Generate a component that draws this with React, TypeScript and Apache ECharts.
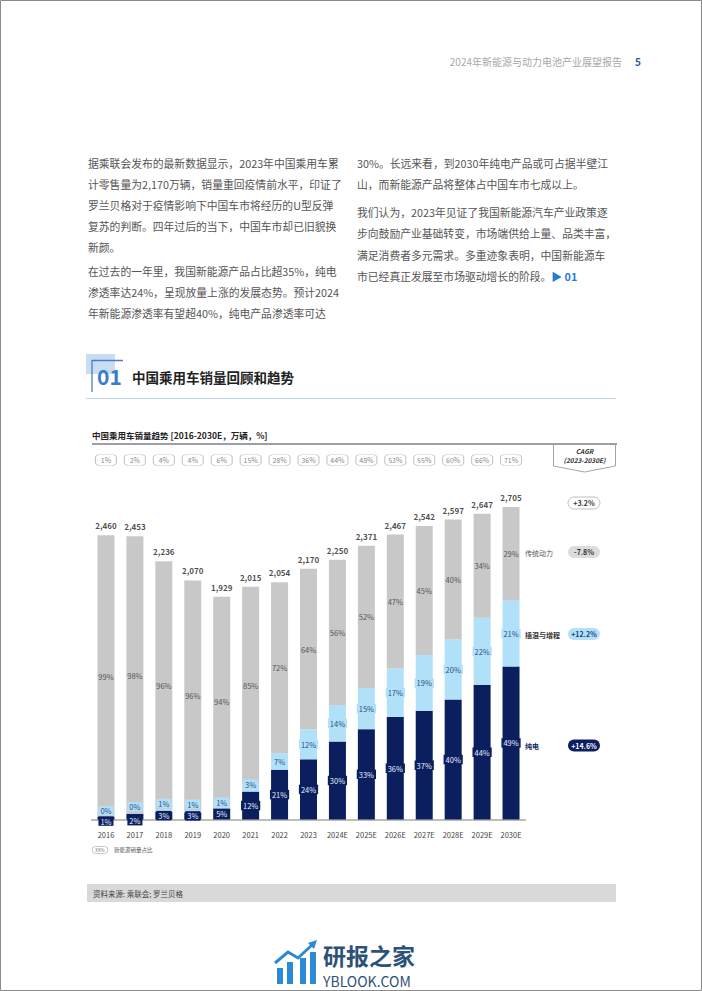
import React, { useEffect, useRef } from "react";
import * as echarts from "echarts";

const years = ["2016", "2017", "2018", "2019", "2020", "2021", "2022", "2023", "2024E", "2025E", "2026E", "2027E", "2028E", "2029E", "2030E"];
const totals = [2460, 2453, 2236, 2070, 1929, 2015, 2054, 2170, 2250, 2371, 2467, 2542, 2597, 2647, 2705];
const bevShare = [1, 2, 3, 3, 5, 12, 21, 24, 30, 33, 36, 37, 40, 44, 49];
const phevShare = [0, 0, 1, 1, 1, 3, 7, 12, 14, 15, 17, 19, 20, 22, 21];
const iceShare = [99, 98, 96, 96, 94, 85, 72, 64, 56, 52, 47, 45, 40, 34, 29];
const nevShare = [1, 2, 4, 4, 6, 15, 28, 36, 44, 48, 53, 55, 60, 66, 71];
const segmentNames = ["传统动力", "插混与增程", "纯电"];
const cagrTotal = "+3.2%";
const cagrSegments = ["-7.8%", "+12.2%", "+14.6%"];

const leftLines = [
  "据乘联会发布的最新数据显示，2023年中国乘用车累",
  "计零售量为2,170万辆，销量重回疫情前水平，印证了",
  "罗兰贝格对于疫情影响下中国车市将经历的U型反弹",
  "复苏的判断。四年过后的当下，中国车市却已旧貌换",
  "新颜。",
  "在过去的一年里，我国新能源产品占比超35%，纯电",
  "渗透率达24%，呈现放量上涨的发展态势。预计2024",
  "年新能源渗透率有望超40%，纯电产品渗透率可达",
];
const leftY = [163, 184, 205, 226, 247, 270.5, 291.8, 313];
const rightLines = [
  "30%。长远来看，到2030年纯电产品或可占据半壁江",
  "山，而新能源产品将整体占中国车市七成以上。",
  "我们认为，2023年见证了我国新能源汽车产业政策逐",
  "步向鼓励产业基础转变，市场端供给上量、品类丰富，",
  "满足消费者多元需求。多重迹象表明，中国新能源车",
  "市已经真正发展至市场驱动增长的阶段。{b|▶ 01}",
];
const rightY = [163, 184, 212, 233.3, 254.6, 276];

const FONT = "'Noto Sans CJK SC', 'Noto Sans', sans-serif";
const NAVY = "#0b1f5e";
const LIGHT = "#b1e1f8";
const GRAY = "#c8c8c8";

const bevOffsets: Record<number, number[]> = { 0: [0, 3], 1: [0, 4] };
const phevOffsets: Record<number, number[]> = { 0: [0, -6], 1: [0, -7], 2: [0, -7], 3: [0, -7], 4: [0, -5], 5: [0, -4] };

function txt(x: number, y: number, text: string, size: number, color: string, opts: any = {}) {
  return {
    type: "text",
    x,
    y,
    silent: true,
    style: {
      text,
      fill: color,
      fontSize: size,
      fontFamily: FONT,
      fontWeight: opts.weight || "normal",
      fontStyle: opts.style || "normal",
      textAlign: opts.align || "left",
      textVerticalAlign: "middle",
      rich: opts.rich,
    },
  };
}

function pill(cx: number, cy: number, w: number, h: number, fill: string, stroke: string, text: string, color: string) {
  return [
    {
      type: "rect",
      shape: { x: cx - w / 2, y: cy - h / 2, width: w, height: h, r: h / 2 },
      style: { fill, stroke, lineWidth: stroke === "none" ? 0 : 0.8 },
      silent: true,
    },
    txt(cx, cy, text, 7, color, { align: "center", weight: "bold" }),
  ];
}

export default function App() {
  const ref = useRef<HTMLDivElement>(null);
  useEffect(() => {
    document.body.style.margin = "0";
    const chart = echarts.init(ref.current!, null, { renderer: "svg" });

    const bevVals = totals.map((t, i) => (t * bevShare[i]) / 100);
    const phevVals = totals.map((t, i) => (t * phevShare[i]) / 100);
    const iceVals = totals.map((t, i) => t - bevVals[i] - phevVals[i]);

    const graphics: any[] = [];
    graphics.push({ type: "rect", shape: { x: 0.5, y: 0.5, width: 701, height: 990 }, style: { fill: "none", stroke: "#8a8a8a", lineWidth: 1 }, silent: true });
    graphics.push(txt(622, 61, "2024年新能源与动力电池产业展望报告", 10, "#a8a8a8", { align: "right" }));
    graphics.push(txt(638, 61, "5", 10, "#2b5aa0", { align: "center", weight: "bold" }));
    leftLines.forEach((l, i) => graphics.push(txt(88, leftY[i], l, 10.8, "#555")));
    rightLines.forEach((l, i) =>
      graphics.push(
        txt(357, rightY[i], l, 10.8, "#555", {
          rich: { b: { fill: "#2a7bd1", color: "#2a7bd1", fontWeight: "bold", fontSize: 10.8, fontFamily: FONT } },
        })
      )
    );
    graphics.push({ type: "rect", shape: { x: 86, y: 354, width: 29, height: 20 }, style: { fill: "#c9dcf1" }, silent: true });
    graphics.push({ type: "polyline", shape: { points: [[92, 392], [92, 360.5], [123, 360.5]] }, style: { stroke: "#4a7fc0", lineWidth: 1.3, fill: "none" }, silent: true });
    graphics.push(txt(97, 376, "01", 21, "#3d7cc9", { weight: "bold" }));
    graphics.push(txt(132, 377, "中国乘用车销量回顾和趋势", 13.5, "#222", { weight: "bold" }));
    graphics.push({ type: "line", shape: { x1: 86, y1: 398.5, x2: 616, y2: 398.5 }, style: { stroke: "#bcd3ee", lineWidth: 1 }, silent: true });
    graphics.push(txt(92, 435, "中国乘用车销量趋势 [2016-2030E，万辆，%]", 8.5, "#222", { weight: "bold" }));
    graphics.push({ type: "line", shape: { x1: 92, y1: 444, x2: 617, y2: 444 }, style: { stroke: "#3a4050", lineWidth: 1.2 }, silent: true });
    graphics.push({ type: "polyline", shape: { points: [[553.5, 445], [553.5, 466], [584.5, 472], [615.5, 466], [615.5, 445]] }, style: { stroke: "#9a9a9a", lineWidth: 0.9, fill: "none" }, silent: true });
    graphics.push(txt(584.5, 450.5, "CAGR", 6.5, "#333", { align: "center", weight: "bold", style: "italic" }));
    graphics.push(txt(584.5, 459.5, "(2023-2030E)", 6.5, "#333", { align: "center", weight: "bold", style: "italic" }));
    graphics.push(...pill(584, 503, 32, 12, "#fff", "#b0b0b0", cagrTotal, "#333"));
    graphics.push(txt(525, 552.5, segmentNames[0], 7, "#555"));
    graphics.push(...pill(584, 552, 32, 12, "#dcdcdc", "none", cagrSegments[0], "#333"));
    graphics.push(txt(525, 634.5, segmentNames[1], 7, "#333", { weight: "bold" }));
    graphics.push(...pill(584, 634, 32, 12, LIGHT, "none", cagrSegments[1], "#1c3f7a"));
    graphics.push(txt(525, 745.5, segmentNames[2], 7, NAVY, { weight: "bold" }));
    graphics.push(...pill(584, 745.5, 32, 12, NAVY, "none", cagrSegments[2], "#fff"));
    graphics.push({ type: "rect", shape: { x: 92, y: 846.5, width: 16, height: 7, r: 3.5 }, style: { fill: "#fff", stroke: "#b0b0b0", lineWidth: 0.7 }, silent: true });
    graphics.push(txt(100, 850, "XX%", 4.5, "#777", { align: "center" }));
    graphics.push(txt(114, 850, "新能源销量占比", 5.5, "#555"));
    graphics.push({ type: "rect", shape: { x: 87, y: 884, width: 529, height: 18 }, style: { fill: "#d9d9d9" }, silent: true });
    graphics.push(txt(93, 893, "资料来源: 乘联会; 罗兰贝格", 7.5, "#444"));
    const logoBlue = "#2b8ad6";
    [[277, 968, 6, 16], [287, 962, 6, 22], [300, 958, 6, 26], [310, 952, 6, 32]].forEach(([x, y, w, h]) =>
      graphics.push({ type: "rect", shape: { x, y, width: w, height: h }, style: { fill: logoBlue }, silent: true })
    );
    graphics.push({ type: "polyline", shape: { points: [[275, 963], [288, 952], [298, 958], [312, 945]] }, style: { stroke: logoBlue, lineWidth: 3, fill: "none" }, silent: true });
    graphics.push({ type: "polygon", shape: { points: [[308, 943], [317, 940], [314, 949]] }, style: { fill: logoBlue }, silent: true });
    graphics.push(txt(323, 955, "研报之家", 23, "#2d5277", { weight: "bold" }));
    graphics.push(txt(323, 980.5, "YBLOOK.COM", 14, "#2d5277"));

    const option: any = {
      animation: false,
      textStyle: { fontFamily: FONT },
      grid: [
        { left: 91.5, width: 434, top: 473, height: 346.5 },
        { left: 91.5, width: 434, top: 455, height: 10 },
      ],
      xAxis: [
        {
          type: "category",
          data: years,
          gridIndex: 0,
          axisLine: { lineStyle: { color: "#a9a9a9", width: 1.5 } },
          axisTick: { show: false },
          axisLabel: { color: "#444", fontSize: 7.5, margin: 11, interval: 0, fontFamily: FONT },
        },
        { type: "category", data: years, gridIndex: 1, show: false },
      ],
      yAxis: [
        { type: "value", min: 0, max: 3000, show: false, gridIndex: 0 },
        { type: "value", min: -1, max: 1, show: false, gridIndex: 1 },
      ],
      series: [
        {
          name: segmentNames[2],
          type: "bar",
          stack: "a",
          barWidth: 17,
          itemStyle: { color: NAVY },
          data: bevVals.map((v, i) => ({ value: v, label: bevOffsets[i] ? { offset: bevOffsets[i] } : undefined })),
          label: {
            show: true,
            position: "inside",
            formatter: (p: any) => bevShare[p.dataIndex] + "%",
            color: "#e6ecff",
            fontSize: 7.5,
            backgroundColor: NAVY,
            padding: [1, 2],
          },
        },
        {
          name: segmentNames[1],
          type: "bar",
          stack: "a",
          barWidth: 17,
          itemStyle: { color: LIGHT },
          data: phevVals.map((v, i) => ({ value: v, label: phevOffsets[i] ? { offset: phevOffsets[i] } : undefined })),
          label: {
            show: true,
            position: "inside",
            formatter: (p: any) => phevShare[p.dataIndex] + "%",
            color: "#2a4f86",
            fontSize: 7.5,
            backgroundColor: LIGHT,
            padding: [1, 2],
          },
        },
        {
          name: segmentNames[0],
          type: "bar",
          stack: "a",
          barWidth: 17,
          itemStyle: { color: GRAY },
          data: iceVals,
          label: {
            show: true,
            position: "inside",
            formatter: (p: any) => iceShare[p.dataIndex] + "%",
            color: "#555",
            fontSize: 7.5,
          },
        },
        {
          type: "scatter",
          data: totals,
          symbol: "circle",
          symbolSize: 1,
          itemStyle: { color: "rgba(0,0,0,0)" },
          label: {
            show: true,
            position: "top",
            distance: 5,
            formatter: (p: any) => totals[p.dataIndex].toLocaleString("en-US"),
            color: "#222",
            fontSize: 8,
            fontWeight: "bold",
          },
          z: 5,
        },
        {
          type: "scatter",
          xAxisIndex: 1,
          yAxisIndex: 1,
          data: nevShare.map(() => 0),
          symbol: "roundRect",
          symbolSize: [21, 11],
          itemStyle: { color: "#fff", borderColor: "#b8b8b8", borderWidth: 0.8 },
          label: {
            show: true,
            position: "inside",
            formatter: (p: any) => nevShare[p.dataIndex] + "%",
            color: "#666",
            fontSize: 7,
          },
        },
      ],
      graphic: graphics,
    };
    chart.setOption(option);
    return () => chart.dispose();
  }, []);
  return <div ref={ref} style={{ width: 702, height: 991, background: "#fff" }} />;
}
